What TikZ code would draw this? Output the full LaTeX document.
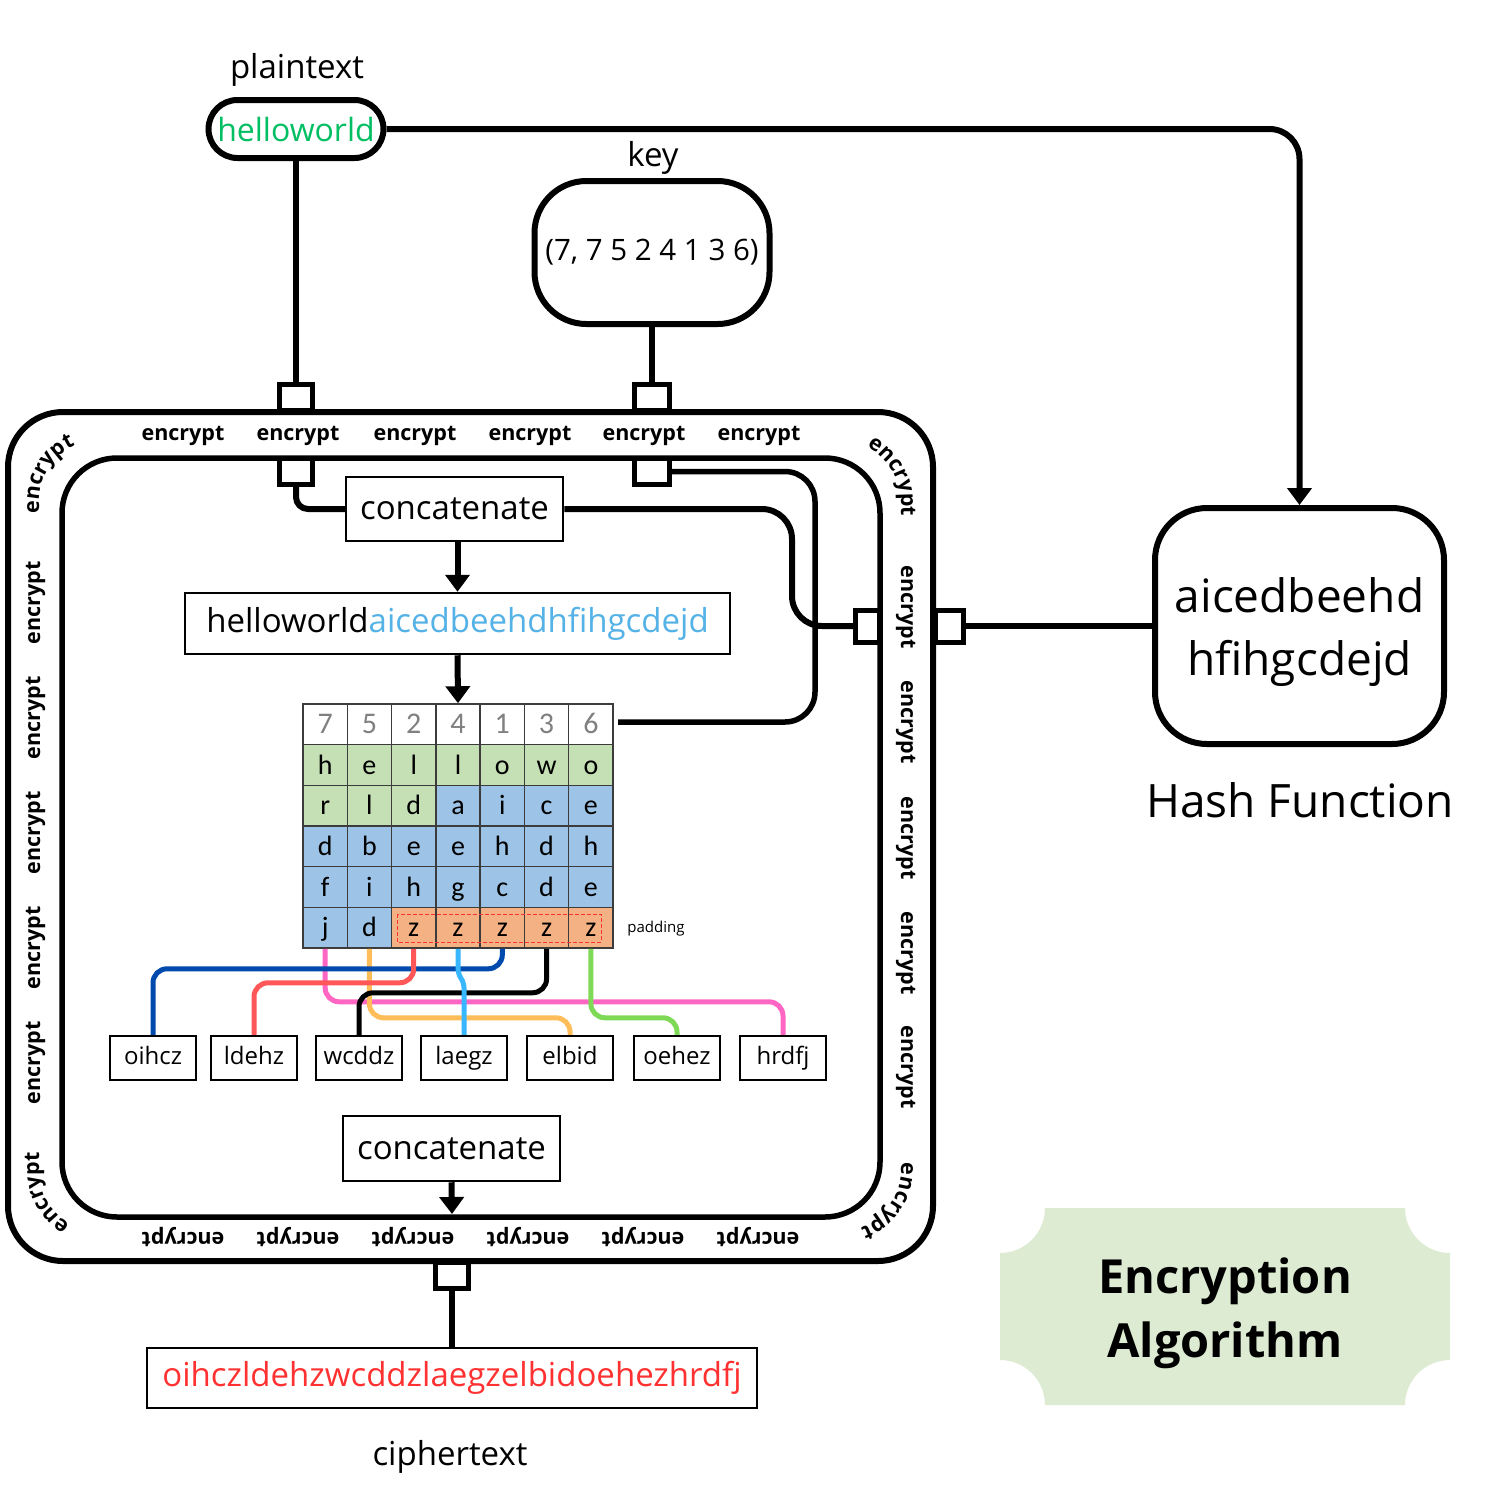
\documentclass[tikz,border=0pt]{standalone}
\usepackage{fontspec}
\setmainfont{Open Sans}
\newfontfamily\calib{Carlito}
\usetikzlibrary{arrows.meta,decorations.text}
\definecolor{ptgreen}{RGB}{0,191,99}
\definecolor{hashblue}{RGB}{84,178,230}
\definecolor{cipred}{RGB}{255,49,49}
\definecolor{digitgray}{RGB}{128,128,128}
\definecolor{gridline}{RGB}{60,60,60}
\definecolor{gc}{RGB}{197,224,180}
\definecolor{bc}{RGB}{157,195,230}
\definecolor{oc}{RGB}{244,177,131}
\definecolor{lnblue}{RGB}{0,74,173}
\definecolor{lnred}{RGB}{255,87,87}
\definecolor{lnlight}{RGB}{56,182,255}
\definecolor{lnorange}{RGB}{255,189,89}
\definecolor{lngreen}{RGB}{126,217,87}
\definecolor{lnpink}{RGB}{255,102,196}
\definecolor{badgegreen}{RGB}{221,235,211}
\newcommand\myfs[1]{\fontsize{#1}{#1}\selectfont}
\newcommand\encf{\bfseries\fontsize{21.5}{21.5}\selectfont}
\begin{document}
\begin{tikzpicture}[x=1pt,y=-1pt,
 conn/.style={line width=6pt},
 tip/.style={-{Triangle[width=24pt,length=17pt]}},
 rbox/.style={draw, line width=6pt, fill=white, inner sep=0pt},
 sbox/.style={draw, line width=2.5pt, fill=white, inner sep=0pt},
 port/.style={draw, line width=5pt, fill=white, inner sep=0pt},
 enc/.style={font=\encf, inner sep=0pt},
 lbl/.style={font=\myfs{33}, inner sep=0pt},
 cellbox/.style={draw=gridline, line width=1.5pt, minimum width=44.29pt, minimum height=40.67pt, inner sep=0pt, text height=22pt, text depth=4pt, font=\calib\myfs{28}},
 obox/.style={sbox, minimum width=86pt, minimum height=44pt, text height=18pt, text depth=5pt, font=\myfs{24}},
 cline/.style={line width=5pt, rounded corners=14pt},
 curvetext/.style={decorate, decoration={text along path, text={|\encf|encrypt}, text align=center}},
]
\useasboundingbox (0,0) rectangle (1500,1500);

% frames
\draw[line width=6pt, rounded corners=55pt] (8,412) rectangle (933,1261);
\draw[line width=5.5pt, rounded corners=55pt] (62,458) rectangle (880,1217);

% frame labels
\foreach \x [count=\i] in {183,298,415,530,644,759}
  \node[enc, anchor=base] (et\i) at (\x,440) {encrypt};
\foreach \x [count=\i] in {183,298,413,528,643,758}
  \node[enc, anchor=base, rotate=180] (eb\i) at (\x,1232) {encrypt};
\foreach \y [count=\i] in {603,718,833,948,1063}
  \node[enc, anchor=base, rotate=90] (el\i) at (40,\y) {encrypt};
\foreach \y [count=\i] in {607,722,838,953,1067}
  \node[enc, anchor=base, rotate=-90] (er\i) at (901,\y) {encrypt};
\path[curvetext] (39,540) -- (39,502) arc[start angle=180, end angle=270, radius=62];
\path[curvetext] (839,440) arc[start angle=270, end angle=360, radius=62] -- (901,545);
\path[curvetext] (101,1232) arc[start angle=90, end angle=180, radius=62] -- (39,1120);
\path[curvetext] (901,1122) -- (901,1170) arc[start angle=0, end angle=90, radius=62] -- (820,1232);

% ports
\node[port, minimum width=33pt, minimum height=26pt] (pin1) at (296,397) {};
\node[port, minimum width=33pt, minimum height=26pt] (pin1b) at (296,471.5) {};
\node[port, minimum width=35pt, minimum height=26pt] (pkey1) at (652,397) {};
\node[port, minimum width=35pt, minimum height=26pt] (pkey2) at (652,471.5) {};
\node[port, minimum width=24pt, minimum height=32pt] (pin3) at (867.5,626) {};
\node[port, minimum width=28pt, minimum height=32pt] (pout) at (949.5,626) {};
\node[port, minimum width=33pt, minimum height=26pt] (pbot) at (452,1275.5) {};

% inputs
\node[rbox, rounded corners=29pt, minimum width=175pt, minimum height=58pt, font=\myfs{32}, text=ptgreen] (pt) at (296,129) {helloworld};
\node[lbl] (ptl) at (297,70) {plaintext};
\node[rbox, rounded corners=52pt, minimum width=235pt, minimum height=143pt, font=\myfs{29.5}] (key) at (652,252.5) {(7, 7 5 2 4 1 3 6)};
\node[lbl] (keyl) at (653,158) {key};

% hash
\node[rbox, rounded corners=52pt, minimum width=289pt, minimum height=236pt] (hash) at (1299.5,626) {};
\node[align=center, inner sep=0pt, font={\fontsize{46}{63}\selectfont}] (hasht) at (1299.5,632) {aicedbeehd\\hfihgcdejd};
\node[font=\myfs{46}, inner sep=0pt] (hashl) at (1300,800) {Hash Function};

% inner boxes
\node[sbox, minimum width=217pt, minimum height=64pt, font=\myfs{33}] (cat1) at (454.5,509) {concatenate};
\node[sbox, minimum width=545pt, minimum height=61pt, font=\myfs{33}] (mid) at (457.5,623.5) {helloworld\textcolor{hashblue}{aicedbeehdhfihgcdejd}};
\node[sbox, minimum width=217pt, minimum height=65pt, font=\myfs{33}] (cat2) at (451.5,1148.5) {concatenate};
\node[sbox, minimum width=610pt, minimum height=60pt, font=\myfs{33}, text=cipred] (ciph) at (452,1378) {oihczldehzwcddzlaegzelbidoehezhrdfj};
\node[lbl] (ciphl) at (450,1457) {ciphertext};

% grid
\foreach \t [count=\c] in {7,5,2,4,1,3,6}
  \node[cellbox, fill=white, text=digitgray, font=\calib\myfs{30}] (g0\c) at ({303+(\c-0.5)*44.29},724.3) {\t};
\foreach \t [count=\c] in {h,e,l,l,o,w,o}
  \node[cellbox, fill=gc] (g1\c) at ({303+(\c-0.5)*44.29},765.0) {\t};
\foreach \t/\f [count=\c] in {r/gc,l/gc,d/gc,a/bc,i/bc,c/bc,e/bc}
  \node[cellbox, fill=\f] (g2\c) at ({303+(\c-0.5)*44.29},805.7) {\t};
\foreach \t [count=\c] in {d,b,e,e,h,d,h}
  \node[cellbox, fill=bc] (g3\c) at ({303+(\c-0.5)*44.29},846.3) {\t};
\foreach \t [count=\c] in {f,i,h,g,c,d,e}
  \node[cellbox, fill=bc] (g4\c) at ({303+(\c-0.5)*44.29},887.0) {\t};
\foreach \t/\f [count=\c] in {j/bc,d/bc,z/oc,z/oc,z/oc,z/oc,z/oc}
  \node[cellbox, fill=\f] (g5\c) at ({303+(\c-0.5)*44.29},927.7) {\t};
\draw[cipred, line width=1pt, dash pattern=on 4pt off 2pt] (397,914) rectangle (601,942);
\node[font=\myfs{15}, inner sep=0pt] (pad) at (656,929) {padding};

% output columns
\foreach \t/\x [count=\i] in {oihcz/153,ldehz/254,wcddz/359,laegz/464,elbid/570,oehez/677,hrdfj/783}
  \node[obox] (ob\i) at (\x,1058) {\t};
\draw[cline, lnpink] (g51.south) -- ++(0,53) -| (ob7.north);
\draw[cline, lnorange] (g52.south) -- ++(0,69) -| (ob5.north);
\draw[cline, lngreen] (g57.south) -- ++(0,69) -| (ob6.north);
\draw[cline, lnblue] (g55.south) -- ++(0,20) -| (ob1.north);
\draw[cline, lnred] (g53.south) -- ++(0,34) -| (ob2.north);
\draw[cline, black] (g56.south) -- ++(0,44) -| (ob3.north);
\draw[line width=5pt, rounded corners=5pt, lnlight] (g54.south) -- ++(0,25) -- ++(6,9) -- (ob4.north);

% connectors
\coordinate (c2) at (792,626);
\coordinate (kc) at (815,722);
\coordinate (hdr) at (618,722);
\coordinate (botin) at (452,1214);
\draw[conn] (pt.south) -- (pin1.north);
\draw[conn, rounded corners=30pt, tip] (pt.east) -| (hash.north);
\draw[conn] (key.south) -- (pkey1.north);
\draw[conn] (hash.west) -- (pout.east);
\draw[conn, rounded corners=12pt] (pin1b.south) |- (cat1.west);
\draw[conn, rounded corners=30pt] (cat1.east) -| (c2) -- (pin3.west);
\draw[line width=5.5pt, rounded corners=30pt] (pkey2.east) -| (kc) -- (hdr);
\draw[conn, tip] (mid.north |- cat1.south) -- (mid.north);
\draw[conn, tip] (mid.south) -- (g04.north);
\draw[conn, tip] (cat2.south) -- (botin);
\draw[conn] (pbot.south) -- (ciph.north);

% badge
\fill[badgegreen] (1045,1208) -- (1405,1208) arc[start angle=180, end angle=90, radius=45]
  -- (1450,1360) arc[start angle=270, end angle=180, radius=45]
  -- (1045,1405) arc[start angle=0, end angle=-90, radius=45]
  -- (1000,1253) arc[start angle=90, end angle=0, radius=45] -- cycle;
\node[font={\bfseries\fontsize{47}{64}\selectfont}, align=center, inner sep=0pt] (algo) at (1225,1313) {Encryption\\Algorithm};
\end{tikzpicture}
\end{document}
